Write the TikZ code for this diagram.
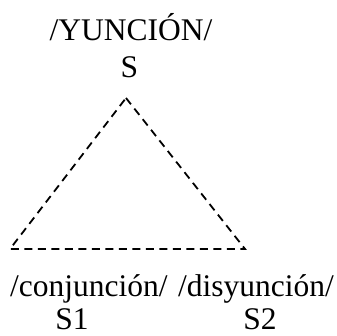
\documentclass[tikz,border=0pt]{standalone}
\usepackage{fontspec}
\setmainfont{Liberation Serif}
\begin{document}
\begin{tikzpicture}[x=1pt, y=-1pt, line cap=butt, line join=miter,
	lab/.style={anchor=base, inner sep=0pt, font=\fontsize{31.5}{36}\selectfont},
	tri/.style={dashed, dash pattern=on 8pt off 5.5pt, line width=1.8pt}]
			\useasboundingbox (0,0) rectangle (337,336);
			
			\node[lab] (top) at (131,41) {/YUNCIÓN/};
			\node[lab] (s) at (129.5,78) {S};
			
			\coordinate (apex) at (126,98);
			\coordinate (left) at (10,249);
			\coordinate (right) at (245,249);
			\draw[tri] (apex) -- (right) -- (left) -- cycle;
			
			\node[lab, anchor=base west] (conj) at (10,297) {/conjunción/};
			\node[lab, anchor=base east] (disy) at (334,297) {/disyunción/};
			\node[lab] (s1) at (72,329) {S1};
			\node[lab] (s2) at (260,329) {S2};
			
		\end{tikzpicture}
\end{document}
